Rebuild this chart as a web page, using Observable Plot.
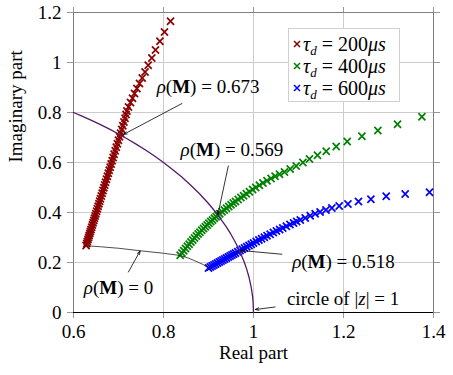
<!DOCTYPE html>
<html><head><meta charset="utf-8">
<script src="https://cdn.jsdelivr.net/npm/d3@7"></script>
<script src="https://cdn.jsdelivr.net/npm/@observablehq/plot@0.6"></script>
<style>
body{margin:0;background:#fff;}
#wrap{position:relative;width:453px;height:375px;font-family:"Liberation Serif",serif;}
#legend{position:absolute;left:288px;top:28px;width:112px;height:74px;border:1px solid #d0d0d0;background:#fff;box-sizing:border-box;font-size:20px;}
.row{position:absolute;left:0;height:22px;line-height:22px;white-space:nowrap;}
.row svg{position:absolute;left:4px;top:7px;}
.row span{position:absolute;left:14px;top:0;}
sub{font-size:13px;vertical-align:-4px;line-height:0;}
</style>
</head><body>
<div id="wrap"><div id="legend"></div></div>
<script>
// ---- data ----
const xTicks = [0.6, 0.8, 1.0, 1.2, 1.4];
const xTickLabels = ["0.6", "0.8", "1", "1.2", "1.4"];
const yTicks = [0, 0.2, 0.4, 0.6, 0.8, 1.0, 1.2];
const yTickLabels = ["0", "0.2", "0.4", "0.6", "0.8", "1", "1.2"];

const seriesNames = ["200", "400", "600"];
const seriesColors = ["#8b0000", "#008000", "#0000ff"];

const redX = [0.6280,0.6294,0.6307,0.6321,0.6335,0.6348,0.6362,0.6376,0.6390,0.6405,0.6420,0.6435,0.6451,0.6466,0.6481,0.6497,0.6514,0.6531,0.6548,0.6565,0.6582,0.6599,0.6618,0.6637,0.6656,0.6675,0.6693,0.6712,0.6733,0.6753,0.6774,0.6794,0.6815,0.6837,0.6859,0.6881,0.6903,0.6927,0.6951,0.6975,0.6999,0.7023,0.7047,0.7072,0.7096,0.7120,0.7145,0.7168,0.7187,0.7222,0.7267,0.7311,0.7356,0.7409,0.7467,0.7527,0.7590,0.7660,0.7740,0.7822,0.7920,0.8022,0.8156];
const redY = [0.268,0.276,0.284,0.292,0.300,0.308,0.316,0.324,0.332,0.341,0.350,0.359,0.368,0.377,0.386,0.395,0.405,0.415,0.425,0.435,0.445,0.455,0.466,0.477,0.488,0.499,0.510,0.521,0.533,0.545,0.557,0.569,0.581,0.594,0.607,0.620,0.633,0.647,0.661,0.675,0.689,0.703,0.717,0.732,0.747,0.762,0.777,0.792,0.806,0.822,0.840,0.857,0.876,0.896,0.916,0.938,0.962,0.989,1.018,1.050,1.085,1.122,1.165];

const greenX = [0.837,0.841,0.845,0.849,0.853,0.857,0.861,0.865,0.869,0.873,0.877,0.881,0.885,0.889,0.893,0.897,0.901,0.905,0.909,0.913,0.917,0.921,0.925,0.930,0.935,0.940,0.945,0.950,0.955,0.960,0.966,0.972,0.978,0.984,0.991,0.998,1.005,1.013,1.021,1.030,1.039,1.048,1.0578,1.0689,1.0816,1.0949,1.1098,1.1244,1.1422,1.1616,1.1838,1.2082,1.2409,1.2764,1.3200,1.3742];
const greenY = [0.229,0.238,0.247,0.256,0.265,0.273,0.282,0.290,0.298,0.306,0.314,0.321,0.329,0.336,0.343,0.350,0.357,0.364,0.370,0.377,0.383,0.389,0.395,0.403,0.410,0.417,0.424,0.431,0.438,0.444,0.452,0.460,0.467,0.475,0.483,0.492,0.500,0.509,0.518,0.527,0.536,0.545,0.553,0.562,0.574,0.586,0.600,0.614,0.629,0.645,0.664,0.684,0.705,0.728,0.753,0.783];

const blueX = [0.900,0.904,0.908,0.912,0.916,0.920,0.924,0.928,0.932,0.936,0.940,0.944,0.948,0.952,0.956,0.960,0.965,0.970,0.975,0.980,0.985,0.990,0.995,1.000,1.006,1.012,1.018,1.024,1.030,1.037,1.044,1.051,1.058,1.065,1.073,1.081,1.089,1.096,1.104,1.115,1.126,1.137,1.148,1.161,1.1742,1.1904,1.2098,1.2333,1.2609,1.2949,1.3371,1.3911];
const blueY = [0.178,0.182,0.186,0.190,0.194,0.198,0.202,0.206,0.210,0.214,0.218,0.222,0.226,0.230,0.234,0.238,0.243,0.248,0.253,0.258,0.263,0.268,0.273,0.278,0.284,0.290,0.295,0.301,0.307,0.313,0.320,0.326,0.332,0.338,0.345,0.352,0.358,0.364,0.370,0.378,0.387,0.395,0.402,0.410,0.418,0.426,0.434,0.444,0.453,0.465,0.474,0.481];

// unit circle |z| = 1 (first quadrant part shown)
const circX = [0.60,0.62,0.64,0.66,0.68,0.70,0.72,0.74,0.76,0.78,0.80,0.82,0.84,0.86,0.88,0.90,0.92,0.94,0.95,0.96,0.97,0.98,0.985,0.99,0.995,0.998,0.999,1.0];
const circY = [0.8,0.7846,0.7684,0.7513,0.7332,0.7141,0.6940,0.6726,0.6499,0.6258,0.6,0.5724,0.5426,0.5103,0.4750,0.4359,0.3919,0.3412,0.3122,0.2800,0.2431,0.1990,0.1726,0.1411,0.0999,0.0632,0.0447,0];

// rho(M) = 0 curve
const rho0X = [0.628,0.66,0.70,0.748,0.80,0.837,0.855,0.872,0.888,0.900];
const rho0Y = [0.267,0.263,0.257,0.247,0.237,0.228,0.218,0.205,0.192,0.178];

// annotations
const annoText = ["ρ(M) = 0.673", "ρ(M) = 0.569", "ρ(M) = 0.518", "ρ(M) = 0", "circle of |z| = 1"];
const annoX = [0.899, 0.952, 1.200, 0.700, 1.199];
const annoY = [0.901, 0.652, 0.202, 0.100, 0.056];
const arrowFromX = [0.841, 0.944, 1.063, 0.722, 1.048];
const arrowFromY = [0.836, 0.586, 0.233, 0.162, 0.022];
const arrowToX = [0.711, 0.921, 0.972, 0.748, 1.004];
const arrowToY = [0.712, 0.393, 0.248, 0.246, 0.012];

// ---- build tables ----
const pts = (xs, ys, s) => xs.map((x, i) => ({x, y: ys[i], s}));
const series = [
  ...pts(redX, redY, 0), ...pts(greenX, greenY, 1), ...pts(blueX, blueY, 2)
];
const circle = circX.map((x, i) => ({x, y: circY[i]}));
const rho0 = rho0X.map((x, i) => ({x, y: rho0Y[i]}));
const annos = annoText.map((t, i) => ({t, x: annoX[i], y: annoY[i]}));
const arrows = arrowFromX.map((x, i) => ({x1: x, y1: arrowFromY[i], x2: arrowToX[i], y2: arrowToY[i]}));

const gridColor = "#cccccc";
const tickColor = "#999999";

const chart = Plot.plot({
  width: 453, height: 375,
  marginLeft: 73, marginRight: 20, marginTop: 12, marginBottom: 63,
  style: {fontFamily: '"Liberation Serif", serif', fontSize: "19px", background: "white", overflow: "visible"},
  x: {domain: [0.6, 1.4]},
  y: {domain: [0, 1.2]},
  marks: [
    Plot.gridX(xTicks, {stroke: gridColor, strokeOpacity: 1}),
    Plot.gridY(yTicks, {stroke: gridColor, strokeOpacity: 1}),
    Plot.axisX(xTicks, {anchor: "bottom", tickSize: 6, tickPadding: 6, stroke: tickColor, color: "black", label: null, fontSize: 19,
      tickFormat: d => xTickLabels[xTicks.indexOf(d)]}),
    Plot.axisX(xTicks, {anchor: "top", tickSize: 6, stroke: tickColor, label: null, tickFormat: () => ""}),
    Plot.axisY(yTicks, {anchor: "left", tickSize: 6, tickPadding: 6, stroke: tickColor, color: "black", label: null, fontSize: 19,
      tickFormat: d => yTickLabels[yTicks.indexOf(d)]}),
    Plot.axisY(yTicks, {anchor: "right", tickSize: 6, stroke: tickColor, label: null, tickFormat: () => ""}),
    Plot.frame({stroke: "#808080"}),
    Plot.ruleY([0], {stroke: "black"}),
    Plot.dot(series, {x: "x", y: "y", symbol: "times", r: 3.3, strokeWidth: 1.7, stroke: d => seriesColors[d.s]}),
    Plot.line(circle, {x: "x", y: "y", stroke: "#541a68", strokeWidth: 1.3}),
    Plot.line(rho0, {x: "x", y: "y", stroke: "#222", strokeWidth: 0.8}),
    Plot.arrow(arrows, {x1: "x1", y1: "y1", x2: "x2", y2: "y2", stroke: "black", strokeWidth: 0.8, headLength: 7, headAngle: 40, bend: 0}),
    Plot.text(annos, {x: "x", y: "y", text: "t", fontSize: 19, fill: "black"}),
    Plot.text(["Real part"], {frameAnchor: "bottom", dy: 46, fontSize: 19, fill: "black"}),
    Plot.text(["Imaginary part"], {frameAnchor: "left", dx: -58, rotate: -90, fontSize: 19, fill: "black"})
  ]
});

// math-style formatting of annotation texts
d3.select(chart).selectAll("text").each(function() {
  const t = this.textContent;
  const s = d3.select(this);
  let m = t.match(/^ρ\(M\) = (.+)$/);
  if (m) {
    s.text(null);
    s.append("tspan").attr("font-style", "italic").text("ρ");
    s.append("tspan").text("(");
    s.append("tspan").attr("font-weight", "bold").text("M");
    s.append("tspan").text(") = " + m[1]);
  } else if (t === "circle of |z| = 1") {
    s.text(null);
    s.append("tspan").text("circle of |");
    s.append("tspan").attr("font-style", "italic").text("z");
    s.append("tspan").text("| = 1");
  }
});

const wrap = document.getElementById("wrap");
wrap.insertBefore(chart, wrap.firstChild);

// legend
const legend = document.getElementById("legend");
const rowTops = [4, 26, 48];
seriesNames.forEach((n, i) => {
  const row = document.createElement("div");
  row.className = "row";
  row.style.top = rowTops[i] + "px";
  row.innerHTML = `<svg width="8" height="8"><path d="M1,1L7,7M7,1L1,7" stroke="${seriesColors[i]}" stroke-width="1.5"/></svg>` +
    `<span><i>τ</i><sub><i>d</i></sub> = ${n}<i>μs</i></span>`;
  legend.appendChild(row);
});
</script>
</body></html>
